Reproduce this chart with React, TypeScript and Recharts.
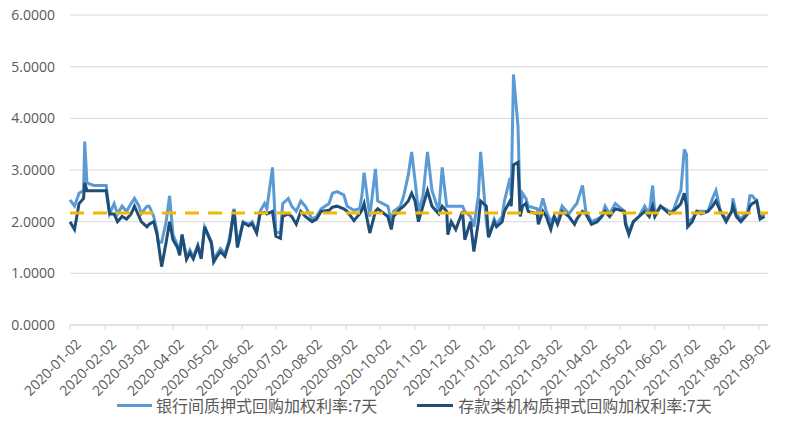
import { LineChart, Line, XAxis, YAxis, CartesianGrid, ReferenceLine } from "recharts";

const tickLabels = [
  "2020-01-02", "2020-02-02", "2020-03-02", "2020-04-02", "2020-05-02", "2020-06-02", "2020-07-02",
  "2020-08-02", "2020-09-02", "2020-10-02", "2020-11-02", "2020-12-02", "2021-01-02", "2021-02-02",
  "2021-03-02", "2021-04-02", "2021-05-02", "2021-06-02", "2021-07-02", "2021-08-02", "2021-09-02",
];

const dates = [
  "2020-01-02", "2020-01-06", "2020-01-10", "2020-01-14", "2020-01-15", "2020-01-17", "2020-01-23",
  "2020-02-03", "2020-02-06", "2020-02-10", "2020-02-13", "2020-02-17", "2020-02-21", "2020-02-25",
  "2020-02-28", "2020-03-03", "2020-03-05", "2020-03-10", "2020-03-12", "2020-03-16", "2020-03-19",
  "2020-03-20", "2020-03-23", "2020-03-27", "2020-03-30", "2020-04-02", "2020-04-06", "2020-04-08",
  "2020-04-10", "2020-04-14", "2020-04-17", "2020-04-20", "2020-04-24", "2020-04-27", "2020-04-30",
  "2020-05-06", "2020-05-08", "2020-05-11", "2020-05-14", "2020-05-18", "2020-05-20", "2020-05-22",
  "2020-05-26", "2020-05-29", "2020-06-03", "2020-06-08", "2020-06-11", "2020-06-15", "2020-06-18",
  "2020-06-22", "2020-06-24", "2020-06-29", "2020-07-02", "2020-07-06", "2020-07-08", "2020-07-13",
  "2020-07-16", "2020-07-20", "2020-07-24", "2020-07-28", "2020-08-03", "2020-08-07", "2020-08-11",
  "2020-08-18", "2020-08-21", "2020-08-25", "2020-08-31", "2020-09-03", "2020-09-09", "2020-09-14",
  "2020-09-16", "2020-09-18", "2020-09-23", "2020-09-28", "2020-09-30", "2020-10-09", "2020-10-12",
  "2020-10-14", "2020-10-20", "2020-10-23", "2020-10-27", "2020-10-30", "2020-11-02", "2020-11-05",
  "2020-11-09", "2020-11-13", "2020-11-17", "2020-11-23", "2020-11-26", "2020-11-30", "2020-12-01",
  "2020-12-04", "2020-12-08", "2020-12-14", "2020-12-16", "2020-12-21", "2020-12-24", "2020-12-28",
  "2020-12-30", "2021-01-04", "2021-01-06", "2021-01-11", "2021-01-13", "2021-01-18", "2021-01-20",
  "2021-01-25", "2021-01-26", "2021-01-28", "2021-02-01", "2021-02-03", "2021-02-05", "2021-02-08",
  "2021-02-10", "2021-02-18", "2021-02-19", "2021-02-23", "2021-02-26", "2021-03-02", "2021-03-05",
  "2021-03-08", "2021-03-12", "2021-03-18", "2021-03-23", "2021-03-25", "2021-03-30", "2021-04-02",
  "2021-04-07", "2021-04-12", "2021-04-16", "2021-04-19", "2021-04-23", "2021-04-28", "2021-05-06",
  "2021-05-07", "2021-05-10", "2021-05-14", "2021-05-19", "2021-05-24", "2021-05-28", "2021-05-31",
  "2021-06-02", "2021-06-07", "2021-06-15", "2021-06-18", "2021-06-23", "2021-06-25", "2021-06-28",
  "2021-06-30", "2021-07-01", "2021-07-05", "2021-07-09", "2021-07-13", "2021-07-19", "2021-07-23",
  "2021-07-26", "2021-07-30", "2021-08-04", "2021-08-09", "2021-08-10", "2021-08-13", "2021-08-17",
  "2021-08-23", "2021-08-25", "2021-08-27", "2021-08-31", "2021-09-03", "2021-09-07",
];

// 银行间质押式回购加权利率:7天
const interbankRate = [
  2.42, 2.3, 2.55, 2.6, 3.55, 2.75, 2.7,
  2.7, 2.15, 2.35, 2.15, 2.3, 2.2, 2.35,
  2.45, 2.3, 2.15, 2.3, 2.3, 2.1, 1.8,
  1.6, 1.6, 2.0, 2.5, 1.75, 1.55, 1.4,
  1.75, 1.3, 1.45, 1.32, 1.55, 1.32, 1.9,
  1.62, 1.26, 1.38, 1.48, 1.38, 1.52, 1.68,
  2.25, 1.55, 2.0, 1.95, 2.0, 1.8, 2.2,
  2.35, 2.25, 3.05, 1.8, 1.78, 2.35, 2.45,
  2.3, 2.2, 2.4, 2.3, 2.05, 2.1, 2.25,
  2.35, 2.55, 2.58, 2.52, 2.3, 2.22, 2.25,
  2.5, 2.95, 2.1, 3.02, 2.4, 2.3, 2.0,
  2.2, 2.3, 2.5, 2.9, 3.35, 2.8, 2.2,
  2.5, 3.35, 2.6, 2.2, 3.05, 2.3, 2.3,
  2.3, 2.3, 2.3, 2.2, 2.1, 1.9, 2.5,
  3.35, 2.0, 1.7, 2.05, 1.95, 2.1, 2.4,
  2.85, 2.5, 4.85, 3.85, 2.2, 2.55, 2.45,
  2.3, 2.25, 2.1, 2.45, 2.2, 2.0, 2.1,
  2.0, 2.3, 2.15, 2.3, 2.35, 2.7, 2.2,
  2.0, 2.05, 2.1, 2.3, 2.15, 2.35, 2.2,
  2.0, 1.8, 2.0, 2.1, 2.3, 2.15, 2.7,
  2.15, 2.3, 2.2, 2.2, 2.5, 2.6, 3.4,
  3.3, 2.0, 2.05, 2.2, 2.2, 2.2, 2.45,
  2.6, 2.2, 2.05, 2.2, 2.45, 2.15, 2.05,
  2.2, 2.5, 2.5, 2.4, 2.1, 2.15,
];

// 存款类机构质押式回购加权利率:7天
const depositoryRate = [
  2.0, 1.85, 2.35, 2.45, 2.75, 2.6, 2.6,
  2.6, 2.15, 2.15, 2.0, 2.1, 2.05, 2.15,
  2.3, 2.1, 2.0, 1.9, 1.95, 2.0, 1.75,
  1.6, 1.13, 1.6, 2.0, 1.65, 1.5, 1.35,
  1.75, 1.27, 1.4, 1.28, 1.52, 1.28, 1.9,
  1.58, 1.22, 1.33, 1.42, 1.33, 1.48, 1.62,
  2.22, 1.5, 1.98, 1.92, 1.96, 1.78, 2.15,
  2.18, 2.15, 2.2, 1.72, 1.68, 2.1, 2.15,
  2.1, 1.95, 2.2, 2.1, 2.0, 2.05, 2.2,
  2.22, 2.28, 2.3, 2.25, 2.2, 2.02, 2.15,
  2.22, 2.35, 1.78, 2.2, 2.25, 2.1, 1.85,
  2.1, 2.25, 2.3, 2.4, 2.55, 2.4, 2.0,
  2.3, 2.6, 2.3, 2.15, 2.3, 2.2, 1.75,
  2.0, 1.85, 2.2, 1.65, 2.0, 1.42, 2.0,
  2.4, 2.3, 1.7, 2.0, 1.9, 2.0, 2.2,
  2.4, 2.3, 3.1, 3.15, 2.1, 2.3, 2.35,
  2.2, 2.15, 1.95, 2.2, 2.1, 1.85, 2.1,
  1.95, 2.2, 2.1, 1.95, 2.05, 2.2, 2.15,
  1.95, 2.0, 2.1, 2.2, 2.1, 2.25, 2.2,
  1.95, 1.75, 2.0, 2.1, 2.2, 2.1, 2.3,
  2.1, 2.3, 2.15, 2.2, 2.3, 2.35, 2.55,
  2.3, 1.9, 2.0, 2.2, 2.15, 2.2, 2.3,
  2.4, 2.2, 2.0, 2.2, 2.3, 2.1, 2.0,
  2.15, 2.3, 2.35, 2.4, 2.05, 2.1,
];

const meanRate = 2.17;
const yTicks = [0, 1, 2, 3, 4, 5, 6];
const axisStart = "2020-01-02";
const axisEnd = "2021-09-10";

const data = dates.map((d, i) => ({
  t: Date.parse(d),
  interbank: interbankRate[i],
  depository: depositoryRate[i],
}));
const xTicks = tickLabels.map((s) => Date.parse(s));

const LIGHT = "#5B9BD5";
const DARK = "#1F4E79";
const TEXT = "#595959";

function DateTick({ x, y, payload }: any) {
  const label = tickLabels[xTicks.indexOf(payload.value)] ?? "";
  const ax = x + 5;
  const ay = y + 6;
  return (
    <text
      x={ax}
      y={ay}
      dy="0.71em"
      textAnchor="end"
      transform={`rotate(-45 ${ax} ${ay})`}
      fill={TEXT}
      fontSize={14}
      fontFamily="Open Sans"
    >
      {label}
    </text>
  );
}

export default function App() {
  return (
    <div style={{ position: "absolute", left: 0, top: 0, width: 789, height: 429, background: "#fff" }}>
      <LineChart width={789} height={429} data={data} margin={{ top: 15, right: 21, left: 0, bottom: 0 }}>
        <CartesianGrid vertical={false} stroke="#D9D9D9" strokeWidth={1} />
        <XAxis
          dataKey="t"
          type="number"
          domain={[Date.parse(axisStart), Date.parse(axisEnd)]}
          ticks={xTicks}
          interval={0}
          tick={<DateTick />}
          tickSize={5}
          axisLine={{ stroke: "#D9D9D9" }}
          tickLine={{ stroke: "#D9D9D9" }}
          height={104}
        />
        <YAxis
          domain={[0, 6]}
          ticks={yTicks}
          width={70}
          axisLine={false}
          tickLine={false}
          tickSize={0}
          tickMargin={15}
          tickFormatter={(v: number) => v.toFixed(4)}
          tick={{ fill: TEXT, fontSize: 14, fontFamily: "Open Sans" }}
        />
        <Line
          type="linear"
          dataKey="interbank"
          stroke={LIGHT}
          strokeWidth={3}
          dot={false}
          isAnimationActive={false}
        />
        <Line
          type="linear"
          dataKey="depository"
          stroke={DARK}
          strokeWidth={3}
          dot={false}
          isAnimationActive={false}
        />
        <ReferenceLine y={meanRate} stroke="#F2B705" strokeWidth={3} strokeDasharray="14 9" />
      </LineChart>
      <div
        style={{
          position: "absolute",
          left: 117,
          top: 393,
          display: "flex",
          alignItems: "center",
          fontFamily: "Noto Sans CJK SC",
          fontSize: 16,
          color: TEXT,
          whiteSpace: "nowrap",
        }}
      >
        <div style={{ width: 35, height: 3, background: LIGHT, marginRight: 4 }} />
        <span>银行间质押式回购加权利率:7天</span>
        <div style={{ width: 36, height: 3, background: DARK, marginLeft: 40, marginRight: 5 }} />
        <span>存款类机构质押式回购加权利率:7天</span>
      </div>
    </div>
  );
}
